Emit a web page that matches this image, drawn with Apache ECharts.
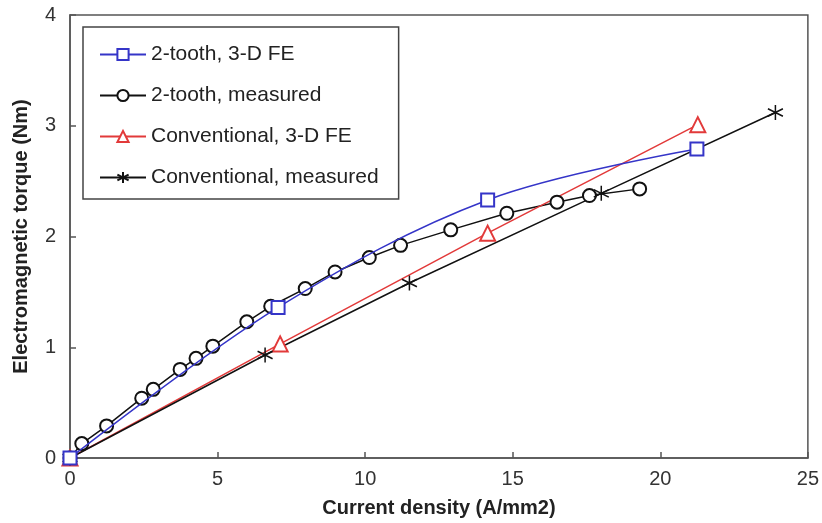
<!DOCTYPE html>
<html>
<head>
<meta charset="utf-8">
<script src="https://cdn.jsdelivr.net/npm/echarts@6/dist/echarts.min.js"></script>
<style>html,body{margin:0;padding:0;background:#fff}#c{width:822px;height:523px}</style>
</head>
<body>
<div id="c"></div>
<script>
const seriesNames = ['2-tooth, 3-D FE', '2-tooth, measured', 'Conventional, 3-D FE', 'Conventional, measured'];
const xTicks = [0, 5, 10, 15, 20, 25];
const yTicks = [0, 1, 2, 3, 4];

const twoToothFE_x = [0, 7.05, 14.15, 21.24];
const twoToothFE_y = [0, 1.36, 2.33, 2.79];

const twoToothMeas_x = [0, 0.40, 1.24, 2.43, 2.82, 3.73, 4.27, 4.84, 5.99, 6.80, 7.97, 8.98, 10.14, 11.20, 12.90, 14.80, 16.50, 17.60, 19.30];
const twoToothMeas_y = [0, 0.13, 0.29, 0.54, 0.62, 0.80, 0.90, 1.01, 1.23, 1.37, 1.53, 1.68, 1.81, 1.92, 2.06, 2.21, 2.31, 2.37, 2.43];

const convFE_x = [0, 7.12, 14.15, 21.27];
const convFE_y = [0, 1.03, 2.03, 3.01];

const convMeas_x = [0, 6.61, 11.50, 18.00, 23.90];
const convMeas_y = [0, 0.93, 1.58, 2.39, 3.12];

const zip = (xs, ys) => xs.map((x, i) => [x, ys[i]]);

const blue = '#3535c8', red = '#e23a3a', black = '#111111';
const asterisk = 'path://M0,-10L0,10M-8.66,-5L8.66,5M-8.66,5L8.66,-5';
const fontFam = '"Liberation Sans", Arial, sans-serif';

const chart = echarts.init(document.getElementById('c'), null, {renderer: 'canvas'});
chart.setOption({
  animation: false,
  backgroundColor: '#fff',
  grid: {left: 70, right: 14, top: 15, bottom: 64, show: true, borderColor: '#555', borderWidth: 1.5, backgroundColor: 'transparent'},
  legend: {
    orient: 'vertical', left: 83, top: 27,
    padding: [17, 20, 11, 16],
    borderColor: '#444', borderWidth: 1.5, backgroundColor: '#fff',
    itemWidth: 46, itemHeight: 14, itemGap: 20,
    textStyle: {fontFamily: fontFam, fontSize: 21, color: '#222'},
    data: seriesNames
  },
  xAxis: {
    type: 'value', min: xTicks[0], max: xTicks[xTicks.length - 1], interval: 5,
    name: 'Current density (A/mm2)', nameLocation: 'middle', nameGap: 40,
    nameTextStyle: {fontFamily: fontFam, fontSize: 20, fontWeight: 'bold', color: '#222'},
    axisLine: {lineStyle: {color: '#555', width: 1.5}},
    axisTick: {inside: true, length: 6, lineStyle: {color: '#555', width: 1.5}},
    axisLabel: {fontFamily: fontFam, fontSize: 20, color: '#333', margin: 11},
    splitLine: {show: false}
  },
  yAxis: {
    type: 'value', min: yTicks[0], max: yTicks[yTicks.length - 1], interval: 1,
    name: 'Electromagnetic torque (Nm)', nameLocation: 'middle', nameGap: 39,
    nameTextStyle: {fontFamily: fontFam, fontSize: 20, fontWeight: 'bold', color: '#222'},
    axisLine: {lineStyle: {color: '#555', width: 1.5}},
    axisTick: {inside: true, length: 6, lineStyle: {color: '#555', width: 1.5}},
    axisLabel: {fontFamily: fontFam, fontSize: 20, color: '#333', margin: 14},
    splitLine: {show: false}
  },
  series: [
    {
      name: seriesNames[0], type: 'line', data: zip(twoToothFE_x, twoToothFE_y), smooth: 0.35,
      symbol: 'emptyRect', symbolSize: 13,
      lineStyle: {color: blue, width: 1.5}, itemStyle: {color: blue, borderWidth: 1.5}, z: 3
    },
    {
      name: seriesNames[1], type: 'line', data: zip(twoToothMeas_x, twoToothMeas_y),
      symbol: 'emptyCircle', symbolSize: 13,
      lineStyle: {color: black, width: 1.5}, itemStyle: {color: black, borderWidth: 1.5}, z: 2
    },
    {
      name: seriesNames[2], type: 'line', data: zip(convFE_x, convFE_y),
      symbol: 'emptyTriangle', symbolSize: 15,
      lineStyle: {color: red, width: 1.5}, itemStyle: {color: red, borderWidth: 1.5}, z: 2
    },
    {
      name: seriesNames[3], type: 'line', data: zip(convMeas_x, convMeas_y),
      symbol: asterisk, symbolSize: 15,
      lineStyle: {color: black, width: 1.5}, itemStyle: {color: black, borderColor: black, borderWidth: 1.5}, z: 2
    }
  ]
});
</script>
</body>
</html>
